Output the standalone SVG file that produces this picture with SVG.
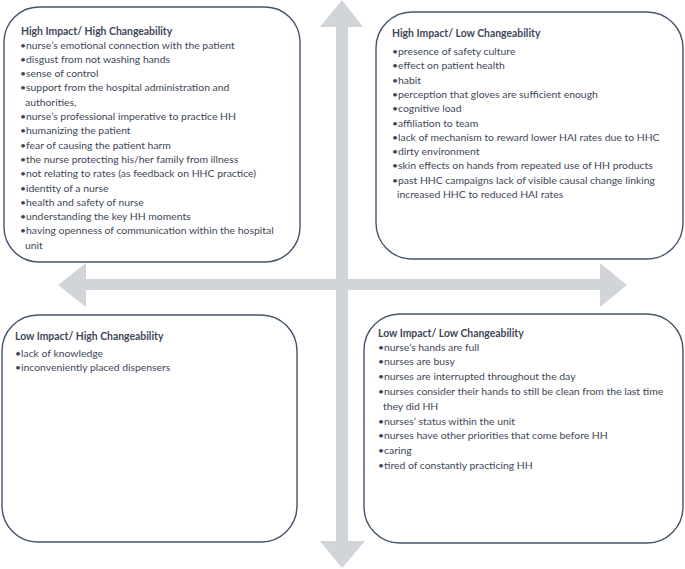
<svg xmlns="http://www.w3.org/2000/svg" width="685" height="569" viewBox="0 0 685 569">
<style>
.box{fill:#fff;stroke:#44546A;stroke-width:1.4}
.arr{fill:#D1D4D9}
text{font-family:Lato,"Liberation Sans",sans-serif;font-size:10.4px;fill:#3E4757}
.t{font-weight:bold}
</style>
<rect width="685" height="569" fill="#fff"/>
<g id="axes">
<polygon class="arr" points="342,0 363,27 348,27 348,541 365,541 342,568 320,541 336,541 336,27 320,27"/>
<polygon class="arr" points="58,285 86,263 86,279 600,279 600,263 627,285 600,307 600,290 86,290 86,307"/>
</g>
<g id="hh">
<rect class="box" x="4" y="7" width="296" height="255" rx="35"/>
<text class="t" x="21" y="34.5">High Impact/ High Changeability</text>
<text x="20" y="48.5">•nurse’s emotional connection with the patient</text>
<text x="20" y="62.8">•disgust from not washing hands</text>
<text x="20" y="77.1">•sense of control</text>
<text x="20" y="91.4">•support from the hospital administration and</text>
<text x="25" y="105.7">authorities,</text>
<text x="20" y="120">•nurse’s professional imperative to practice HH</text>
<text x="20" y="134.3">•humanizing the patient</text>
<text x="20" y="148.6">•fear of causing the patient harm</text>
<text x="20" y="162.9">•the nurse protecting his/her family from illness</text>
<text x="20" y="177.2">•not relating to rates (as feedback on HHC practice)</text>
<text x="20" y="191.5">•identity of a nurse</text>
<text x="20" y="205.8">•health and safety of nurse</text>
<text x="20" y="220.1">•understanding the key HH moments</text>
<text x="20" y="234.4">•having openness of communication within the hospital</text>
<text x="25" y="248.7">unit</text>
</g>
<g id="hl">
<rect class="box" x="376" y="12" width="307" height="247" rx="36"/>
<text class="t" x="392" y="36.5">High Impact/ Low Changeability</text>
<text x="392" y="55">•presence of safety culture</text>
<text x="392" y="69.3">•effect on patient health</text>
<text x="392" y="83.6">•habit</text>
<text x="392" y="97.9">•perception that gloves are sufficient enough</text>
<text x="392" y="112.2">•cognitive load</text>
<text x="392" y="126.5">•affiliation to team</text>
<text x="392" y="140.8">•lack of mechanism to reward lower HAI rates due to HHC</text>
<text x="392" y="155.1">•dirty environment</text>
<text x="392" y="169.4">•skin effects on hands from repeated use of HH products</text>
<text x="392" y="183.7">•past HHC campaigns lack of visible causal change linking</text>
<text x="397" y="198">increased HHC to reduced HAI rates</text>
</g>
<g id="lh">
<rect class="box" x="2" y="315" width="295" height="227" rx="36"/>
<text class="t" x="15" y="339.5">Low Impact/ High Changeability</text>
<text x="15" y="356.5">•lack of knowledge</text>
<text x="15" y="370.8">•inconveniently placed dispensers</text>
</g>
<g id="ll">
<rect class="box" x="364" y="314" width="319" height="229" rx="36"/>
<text class="t" x="378" y="336.5">Low Impact/ Low Changeability</text>
<text x="378" y="350.5">•nurse’s hands are full</text>
<text x="378" y="365.3">•nurses are busy</text>
<text x="378" y="380.1">•nurses are interrupted throughout the day</text>
<text x="378" y="394.9">•nurses consider their hands to still be clean from the last time</text>
<text x="383" y="409.7">they did HH</text>
<text x="378" y="424.5">•nurses’ status within the unit</text>
<text x="378" y="439.3">•nurses have other priorities that come before HH</text>
<text x="378" y="454.1">•caring</text>
<text x="378" y="468.9">•tired of constantly practicing HH</text>
</g>
</svg>
